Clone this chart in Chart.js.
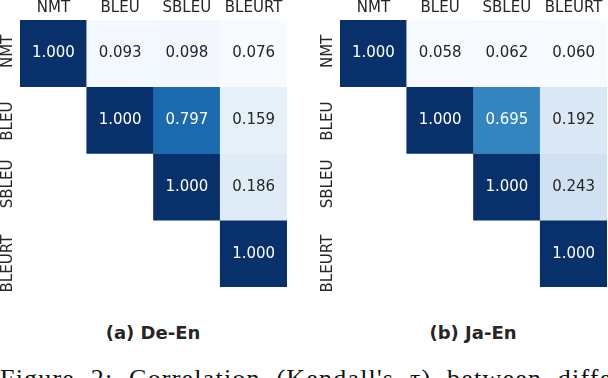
<!DOCTYPE html>
<html>
<head>
<meta charset="utf-8">
<script src="https://cdn.jsdelivr.net/npm/chart.js@4"></script>
<style>
  body { margin: 0; width: 608px; height: 378px; background: #fff; position: relative; overflow: hidden; }
  .box { position: absolute; top: 0; height: 300px; }
  .cap { position: absolute; top: 322px; font: bold 18px/21px "DejaVu Sans", sans-serif; color: #262626; text-align: center; width: 200px; }
  .fig { position: absolute; top: 366px; left: 0; white-space: nowrap; font: 26px/26px "Liberation Serif", serif; letter-spacing: 1.2px; word-spacing: 8px; color: #111; }
</style>
</head>
<body>
<div class="box" style="left:0;width:300px"><canvas id="deen"></canvas></div>
<div class="box" style="left:320px;width:288px"><canvas id="jaen"></canvas></div>
<div class="cap" style="left:53px">(a) De-En</div>
<div class="cap" style="left:373px">(b) Ja-En</div>
<div class="fig">Figure 2: Correlation (Kendall's τ) between different metrics</div>
<script>
document.addEventListener("DOMContentLoaded", () => {
    // métricas (filas y columnas)
    const metricas = ['NMT', 'BLEU', 'SBLEU', 'BLEURT'];

    // De-En, una fila por métrica
    const deEnNMT    = [1.000, 0.093, 0.098, 0.076];
    const deEnBLEU   = [null, 1.000, 0.797, 0.159];
    const deEnSBLEU  = [null, null, 1.000, 0.186];
    const deEnBLEURT = [null, null, null, 1.000];

    // Ja-En
    const jaEnNMT    = [1.000, 0.058, 0.062, 0.060];
    const jaEnBLEU   = [null, 1.000, 0.695, 0.192];
    const jaEnSBLEU  = [null, null, 1.000, 0.243];
    const jaEnBLEURT = [null, null, null, 1.000];

    // paleta Blues
    const blues = ['#f7fbff', '#deebf7', '#c6dbef', '#9ecae1', '#6baed6', '#4292c6', '#2171b5', '#08519c', '#08306b'];
    const hex = h => [1, 3, 5].map(i => parseInt(h.substr(i, 2), 16));

    // ajuste vertical de las etiquetas de filas (px), como en la figura original
    const ajusteFila = [-2, 1, -3, 10];

    function colorBlues(t) {
        t = Math.max(0, Math.min(1, t));
        const p = t * (blues.length - 1);
        const i = Math.min(Math.floor(p), blues.length - 2);
        const f = p - i;
        const a = hex(blues[i]), b = hex(blues[i + 1]);
        return a.map((v, k) => Math.round(v + (b[k] - v) * f));
    }

    function luminancia(rgb) {
        const c = rgb.map(v => {
            v = v / 255;
            return v <= 0.03928 ? v / 12.92 : Math.pow((v + 0.055) / 1.055, 2.4);
        });
        return 0.2126 * c[0] + 0.7152 * c[1] + 0.0722 * c[2];
    }

    function heatmap(id, filas, padRight) {
        const todos = filas.flat().filter(v => v !== null);
        const vmin = Math.min(...todos), vmax = Math.max(...todos);
        const rgbDe = v => colorBlues((v - vmin) / (vmax - vmin));

        const etiquetas = {
            id: 'etiquetas',
            afterDatasetsDraw(chart) {
                const ctx = chart.ctx;
                const x = chart.scales.x, y = chart.scales.y;
                const area = chart.chartArea;
                ctx.save();
                // valores dentro de las celdas
                ctx.font = '15px "DejaVu Sans", sans-serif';
                ctx.textAlign = 'center';
                ctx.textBaseline = 'middle';
                chart.data.datasets.forEach((ds, r) => {
                    chart.getDatasetMeta(r).data.forEach((el, c) => {
                        const v = filas[r][c];
                        if (v === null) return;
                        ctx.fillStyle = luminancia(rgbDe(v)) > 0.408 ? '#262626' : '#ffffff';
                        ctx.fillText(v.toFixed(3), el.x, (el.y + el.base) / 2);
                    });
                });
                // etiquetas de columnas
                ctx.fillStyle = '#262626';
                metricas.forEach((m, i) => {
                    ctx.fillText(m, x.getPixelForValue(i), area.top - 12);
                });
                // etiquetas de filas (giradas)
                metricas.forEach((m, i) => {
                    ctx.save();
                    ctx.translate(area.left - 12, y.getPixelForValue(i + 0.5) + ajusteFila[i]);
                    ctx.rotate(-Math.PI / 2);
                    ctx.fillText(m, 0, 0);
                    ctx.restore();
                });
                ctx.restore();
            }
        };

        new Chart(document.getElementById(id), {
            type: 'bar',
            data: {
                labels: metricas,
                datasets: filas.map((fila, r) => ({
                    label: metricas[r],
                    data: fila.map(v => v === null ? null : [r, r + 1]),
                    backgroundColor: fila.map(v => v === null ? 'rgba(0,0,0,0)' : 'rgb(' + rgbDe(v).join(',') + ')'),
                    borderWidth: 0,
                    grouped: false,
                    barPercentage: 1,
                    categoryPercentage: 1
                }))
            },
            options: {
                responsive: true,
                maintainAspectRatio: false,
                animation: false,
                layout: { padding: { left: 20, top: 20, right: padRight, bottom: 13 } },
                plugins: { legend: { display: false }, tooltip: { enabled: false } },
                scales: {
                    x: { display: false },
                    y: { display: false, min: 0, max: 4, reverse: true }
                }
            },
            plugins: [etiquetas]
        });
    }

    heatmap('deen', [deEnNMT, deEnBLEU, deEnSBLEU, deEnBLEURT], 13);
    heatmap('jaen', [jaEnNMT, jaEnBLEU, jaEnSBLEU, jaEnBLEURT], 1);
});
</script>
</body>
</html>
